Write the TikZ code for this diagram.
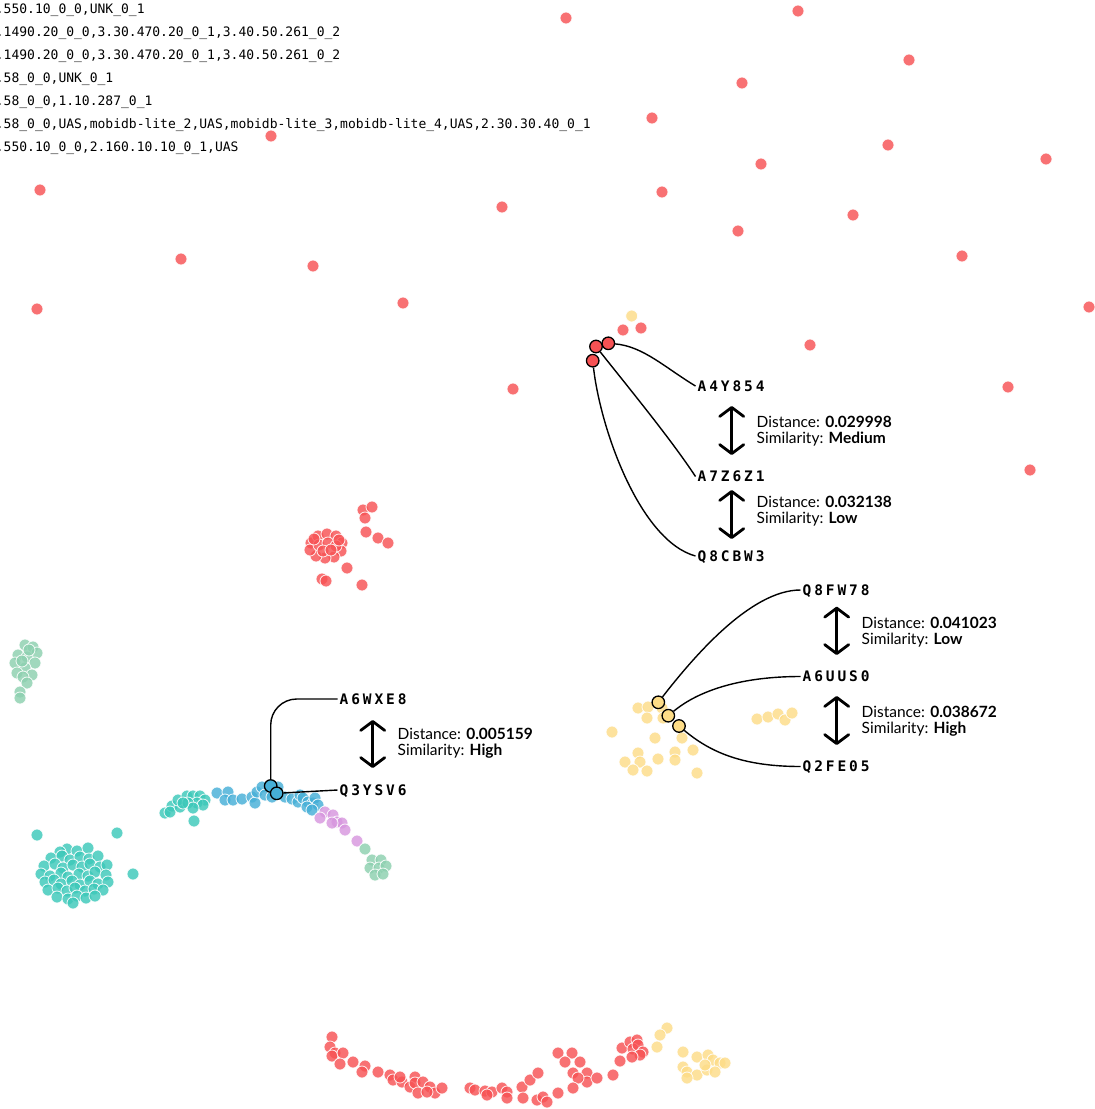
\documentclass[tikz,border=0pt]{standalone}
\usepackage{fontspec}
\usetikzlibrary{arrows.meta}
\newfontfamily\latofont{Lato}
\newfontfamily\codefont{DejaVu Sans Mono}
\newfontfamily\tagfont[LetterSpace=20]{DejaVu Sans Mono}
\definecolor{ptred}{RGB}{247,82,84}
\definecolor{ptyellow}{RGB}{253,220,135}
\definecolor{ptteal}{RGB}{60,200,185}
\definecolor{ptblue}{RGB}{70,175,215}
\definecolor{ptpurple}{RGB}{215,150,222}
\definecolor{ptmint}{RGB}{140,208,175}

\begin{document}
\begin{tikzpicture}[x=1pt, y=-1pt,
    dot/.style={fill=#1, fill opacity=.82, draw=white, draw opacity=.9, line width=.8pt},
    hit/.style={circle, fill=#1, draw=black, line width=1.3pt, minimum size=12.5pt, inner sep=0pt},
    tag/.style={font=\tagfont\bfseries\fontsize{14.5}{14.5}\selectfont, anchor=west, inner sep=2pt, text height=10.5pt, text depth=0pt},
    info/.style={font=\latofont\fontsize{15.5}{16}\selectfont, align=left, anchor=west, inner sep=0pt},
    code/.style={font=\codefont\fontsize{13}{13}\selectfont, anchor=base west, inner sep=0pt},
    link/.style={line width=1.4pt},
    gap/.style={line width=2.8pt, line cap=round, {Straight Barb[length=9pt,width=24pt,round]}-{Straight Barb[length=9pt,width=24pt,round]}}]
    \useasboundingbox (0,0) rectangle (1095,1109);

    % annotations, top left
    \node[code] (c1) at (-4.3,13.3) {.550.10\_0\_0,UNK\_0\_1};
    \node[code] (c2) at (-4.3,36.3) {.1490.20\_0\_0,3.30.470.20\_0\_1,3.40.50.261\_0\_2};
    \node[code] (c3) at (-4.3,59.3) {.1490.20\_0\_0,3.30.470.20\_0\_1,3.40.50.261\_0\_2};
    \node[code] (c4) at (-4.3,82.3) {.58\_0\_0,UNK\_0\_1};
    \node[code] (c5) at (-4.3,105.3) {.58\_0\_0,1.10.287\_0\_1};
    \node[code] (c6) at (-4.3,128.3) {.58\_0\_0,UAS,mobidb-lite\_2,UAS,mobidb-lite\_3,mobidb-lite\_4,UAS,2.30.30.40\_0\_1};
    \node[code] (c7) at (-4.3,151.3) {.550.10\_0\_0,2.160.10.10\_0\_1,UAS};

    % scattered points
    \foreach \p in {(566,18),(798,11),(909,60),(742,83),(652,118),(888,145),(761,164),(1046,159),(662,192),
        (502,207),(853,215),(738,231),(181,259),(313,266),(962,256),(40,190),(271,136),(37,309),(403,303),
        (1089,307),(810,345),(513,389),(1008,387),(1030,470),(623,330),(641,328)}
        \filldraw[dot=ptred] \p circle[radius=6pt];
    \filldraw[dot=ptyellow] (631.7,316) circle[radius=6pt];

    % red cluster, middle left
    \foreach \p in {(311,543),(318,536),(327,534),(336,536),(342,543),(341,551),(334,557),(325,558),(316,556),
        (310,550),(319,545),(328,543),(336,546),(323,551),(331,550),(314,539),(339,540),
        (363,510),(372,507),(365,518),(366,532),(378,538),(388,543),(347,568),(322,579),(326,581),(362,585)}
        \filldraw[dot=ptred] \p circle[radius=6pt];

    % mint cluster, far left
    \foreach \p in {(25,645),(33,647),(37,653),(18,655),(27,657),(15,663),(35,663),(25,668),(17,673),(32,675),
        (23,677),(27,683),(20,692),(20,698),(29,650),(22,661)}
        \filldraw[dot=ptmint] \p circle[radius=6pt];

    % teal blob
    \foreach \p in {(37,835),(117,833),(133,874),
        (67,849),(77,851),(88,848),(60,852),
        (51,858),(62,856),(70,860),(80,857),(89,859),(98,856),
        (44,866),(55,864),(63,868),(73,865),(82,867),(90,864),(100,867),(107,865),
        (41,874),(50,876),(61,873),(68,877),(79,874),(88,876),(95,872),(106,875),
        (45,882),(54,880),(61,884),(72,881),(80,885),(90,881),(98,884),(108,882),
        (48,890),(58,888),(67,891),(75,888),(85,891),(94,889),(103,890),
        (57,897),(68,899),(77,896),(86,898),(95,896),(73,903)}
        \filldraw[dot=ptteal] \p circle[radius=6pt];

    % arc of points
    \foreach \p in {(165,813),(172,806),(170,812),(180,807),(178,800),(187,796),(193,796),(200,796),(205,800),
        (197,803),(188,803),(203,805),(193,808),(194,821),(183,803)}
        \filldraw[dot=ptteal] \p circle[radius=6pt];
    \foreach \p in {(217,793),(228,792),(225,800),(233,800),(242,799),(252,797),(255,803),(257,792),(262,787),
        (278,787),(265,795),(272,797),(285,797),(292,799),(298,802),(300,795),(303,798),(308,802),(313,803),
        (307,807),(315,798),(318,805),(312,810)}
        \filldraw[dot=ptblue] \p circle[radius=6pt];
    \foreach \p in {(325,812),(320,818),(333,815),(337,822),(342,823),(332,823),(345,830),(357,841)}
        \filldraw[dot=ptpurple] \p circle[radius=6pt];
    \foreach \p in {(365,849),(372,860),(381,860),(370,868),(379,868),(386,866),(375,875),(383,874)}
        \filldraw[dot=ptmint] \p circle[radius=6pt];

    % yellow cluster, right
    \foreach \p in {(638,708),(648,707),(647,718),(662,708),(663,718),(612,732),(655,738),(682,738),(638,753),
        (675,752),(693,750),(625,762),(640,762),(658,759),(675,760),(633,770),(647,771),(697,773),
        (757,719),(768,717),(778,714),(785,720),(792,713)}
        \filldraw[dot=ptyellow] \p circle[radius=6pt];

    % bottom arc
    \foreach \p in {(332,1037),(330,1047),(335,1053),(332,1056),(343,1053),(340,1064),(353,1062),(365,1066),
        (362,1072),(378,1072),(390,1075),(393,1080),(402,1082),(400,1077),(415,1077),(410,1087),(415,1083),
        (423,1082),(418,1093),(430,1087),(435,1093),(442,1088),(427,1092),
        (470,1088),(475,1090),(485,1091),(492,1092),(487,1095),(502,1088),(507,1092),(507,1098),
        (522,1087),(523,1098),(530,1080),(538,1073),(537,1100),(543,1097),(547,1102),(558,1093),
        (558,1053),(572,1053),(565,1062),(580,1062),(573,1073),(587,1073),(587,1082),(597,1078),(578,1078),
        (573,1088),(613,1075),(620,1061),(622,1048),(630,1042),(637,1040),(633,1049),(638,1045),(643,1052),
        (640,1055),(632,1057)}
        \filldraw[dot=ptred] \p circle[radius=6pt];
    \foreach \p in {(667,1028),(660,1035),(657,1047),(683,1052),(697,1057),(708,1055),(713,1060),(720,1063),
        (683,1067),(687,1072),(697,1075),(707,1070),(715,1072),(725,1063),(687,1078),(705,1065)}
        \filldraw[dot=ptyellow] \p circle[radius=6pt];

    % selected points
    \node[hit=ptred] (r1) at (608.3,343.3) {};
    \node[hit=ptred] (r2) at (596,346.5) {};
    \node[hit=ptred] (r3) at (592.7,360.7) {};
    \node[hit=ptyellow] (y1) at (658.3,702.3) {};
    \node[hit=ptyellow] (y2) at (668.3,715.7) {};
    \node[hit=ptyellow] (y3) at (679,726) {};
    \node[hit=ptblue] (b1) at (270.7,786) {};
    \node[hit=ptblue] (b2) at (276.7,793.3) {};

    % labels
    \node[tag] (a4y) at (695.5,386) {A4Y854};
    \node[tag] (a7z) at (695.5,476.5) {A7Z6Z1};
    \node[tag] (q8c) at (695.5,556) {Q8CBW3};
    \node[tag] (q8f) at (800.5,590) {Q8FW78};
    \node[tag] (a6u) at (800.5,676.5) {A6UUS0};
    \node[tag] (q2f) at (800.5,766.5) {Q2FE05};
    \node[tag] (a6w) at (337.5,699) {A6WXE8};
    \node[tag] (q3y) at (337.5,790) {Q3YSV6};

    \draw[link] (r1) .. controls +(35,3) and +(-30,-18) .. (a4y.west);
    \draw[link] (r2) .. controls +(30,38) and +(-25,-38) .. (a7z.west);
    \draw[link] (r3) .. controls +(8,70) and +(-55,-15) .. (q8c.west);
    \draw[link] (y1) .. controls +(35,-45) and +(-50,0) .. (q8f.west);
    \draw[link] (y2) .. controls +(30,-25) and +(-60,0) .. (a6u.west);
    \draw[link] (y3) .. controls +(30,25) and +(-60,0) .. (q2f.west);
    \draw[link, rounded corners=26pt] (b1.north) |- (a6w.west);
    \draw[link] (b2) -- (q3y.west);

    % distances between pairs
    \coordinate (g1t) at (731.7,406);
    \coordinate (g1b) at (731.7,455);
    \coordinate (g2t) at (731.7,490);
    \coordinate (g2b) at (731.7,539);
    \coordinate (g3t) at (836.7,606.7);
    \coordinate (g3b) at (836.7,655);
    \coordinate (g4t) at (836.7,696);
    \coordinate (g4b) at (836.7,745);
    \coordinate (g5t) at (372.7,720);
    \coordinate (g5b) at (372.7,768);
    \draw[gap] (g1t) -- (g1b);
    \draw[gap] (g2t) -- (g2b);
    \draw[gap] (g3t) -- (g3b);
    \draw[gap] (g4t) -- (g4b);
    \draw[gap] (g5t) -- (g5b);

    \node[info] (d1) at (756.5,431.5) {Distance: \textbf{0.029998}\\Similarity: \textbf{Medium}};
    \node[info] (d2) at (756.5,511.5) {Distance: \textbf{0.032138}\\Similarity: \textbf{Low}};
    \node[info] (d3) at (861.5,632) {Distance: \textbf{0.041023}\\Similarity: \textbf{Low}};
    \node[info] (d4) at (861.5,721.5) {Distance: \textbf{0.038672}\\Similarity: \textbf{High}};
    \node[info] (d5) at (397.5,743.5) {Distance: \textbf{0.005159}\\Similarity: \textbf{High}};
\end{tikzpicture}
\end{document}
